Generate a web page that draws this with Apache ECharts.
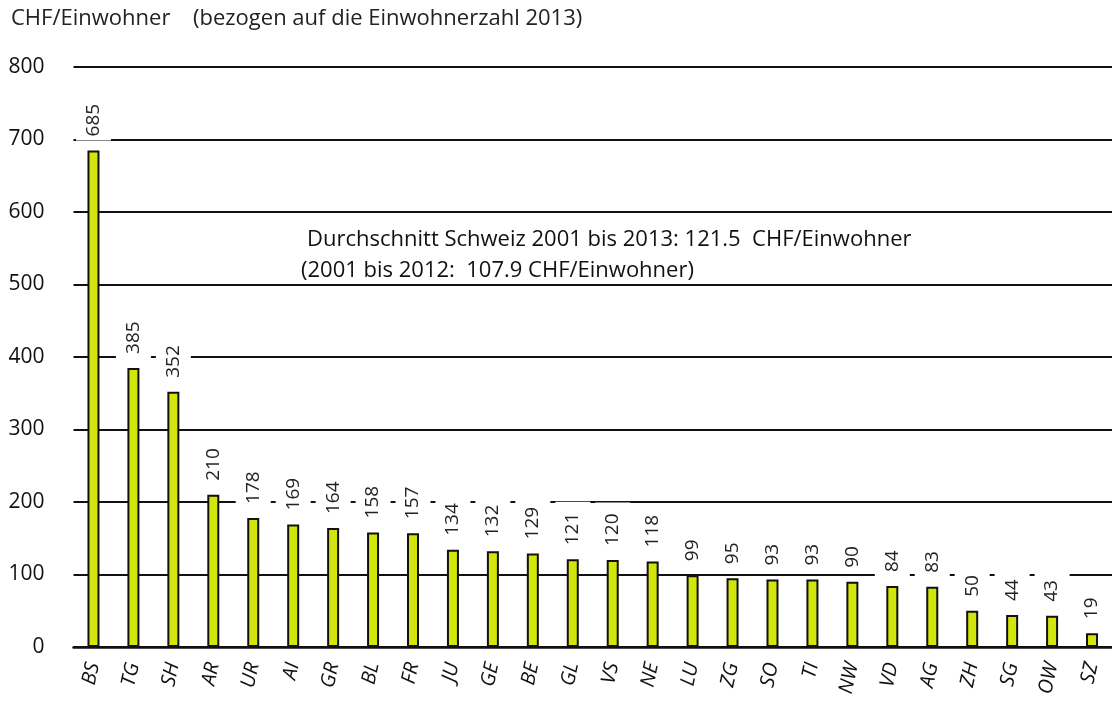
<!DOCTYPE html>
<html lang="de">
<head>
<meta charset="UTF-8">
<title>CHF/Einwohner</title>
<style>
  html, body { margin: 0; padding: 0; background: #fff; }
  #main { width: 1112px; height: 704px; }
</style>
</head>
<body>
<div id="main"></div>
<script src="https://cdn.jsdelivr.net/npm/echarts@6/dist/echarts.min.js"></script>
<script>
// Kantone und Werte (CHF pro Einwohner)
var kantone = ['BS', 'TG', 'SH', 'AR', 'UR', 'AI', 'GR', 'BL', 'FR', 'JU', 'GE', 'BE', 'GL',
               'VS', 'NE', 'LU', 'ZG', 'SO', 'TI', 'NW', 'VD', 'AG', 'ZH', 'SG', 'OW', 'SZ'];
var werte = [685, 385, 352, 210, 178, 169, 164, 158, 157, 134, 132, 129, 121,
             120, 118, 99, 95, 93, 93, 90, 84, 83, 50, 44, 43, 19];
var yTicks = [0, 100, 200, 300, 400, 500, 600, 700, 800];

var titel = 'CHF/Einwohner';
var untertitel = '(bezogen auf die Einwohnerzahl 2013)';
var notiz1 = 'Durchschnitt Schweiz 2001 bis 2013: 121.5  CHF/Einwohner';
var notiz2 = '(2001 bis 2012:  107.9 CHF/Einwohner)';

var font = "'Open Sans', 'DejaVu Sans', sans-serif";
var myChart = echarts.init(document.getElementById('main'));

var option = {
    animation: false,
    grid: {
        left: 73.5,
        top: 67,
        width: 1045,
        height: 580
    },
    xAxis: {
        type: 'category',
        data: kantone,
        axisLine: { lineStyle: { color: '#111', width: 2.5 } },
        axisTick: { show: false },
        axisLabel: {
            rotate: 78,
            margin: 16,
            fontSize: 20,
            fontStyle: 'italic',
            fontFamily: font,
            color: '#111',
            interval: 0
        }
    },
    yAxis: {
        type: 'value',
        min: yTicks[0],
        max: yTicks[yTicks.length - 1],
        interval: 100,
        axisLine: { show: false },
        axisTick: { show: false },
        axisLabel: {
            margin: 29,
            fontSize: 21,
            fontFamily: font,
            color: '#111'
        },
        splitLine: { lineStyle: { color: '#111', width: 1.8 } }
    },
    series: [{
        type: 'bar',
        data: werte,
        barWidth: 12,
        itemStyle: {
            color: '#d2e60c',
            borderColor: '#111',
            borderWidth: 2
        },
        label: {
            show: true,
            position: 'top',
            distance: 10,
            rotate: 90,
            align: 'left',
            verticalAlign: 'middle',
            fontSize: 19,
            fontFamily: font,
            color: '#222',
            backgroundColor: '#fff',
            // Weisser Kasten unterbricht die Gitterlinien wie im Original
            padding: [8, 11, 8, 4]
        }
    }],
    graphic: [
        {
            type: 'text', left: 11, top: 8,
            style: { text: titel, fontSize: 22, fontFamily: font, fill: '#222' }
        },
        {
            type: 'text', left: 193, top: 8,
            style: { text: untertitel, fontSize: 22, fontFamily: font, fill: '#222' }
        },
        {
            type: 'rect', shape: { x: 295, y: 274, width: 593, height: 20 },
            style: { fill: '#fff' }
        },
        {
            type: 'text', left: 307, top: 229,
            style: { text: notiz1, fontSize: 22, fontFamily: font, fill: '#111' }
        },
        {
            type: 'text', left: 301, top: 260,
            style: { text: notiz2, fontSize: 22, fontFamily: font, fill: '#111' }
        }
    ]
};

myChart.setOption(option);
</script>
</body>
</html>
